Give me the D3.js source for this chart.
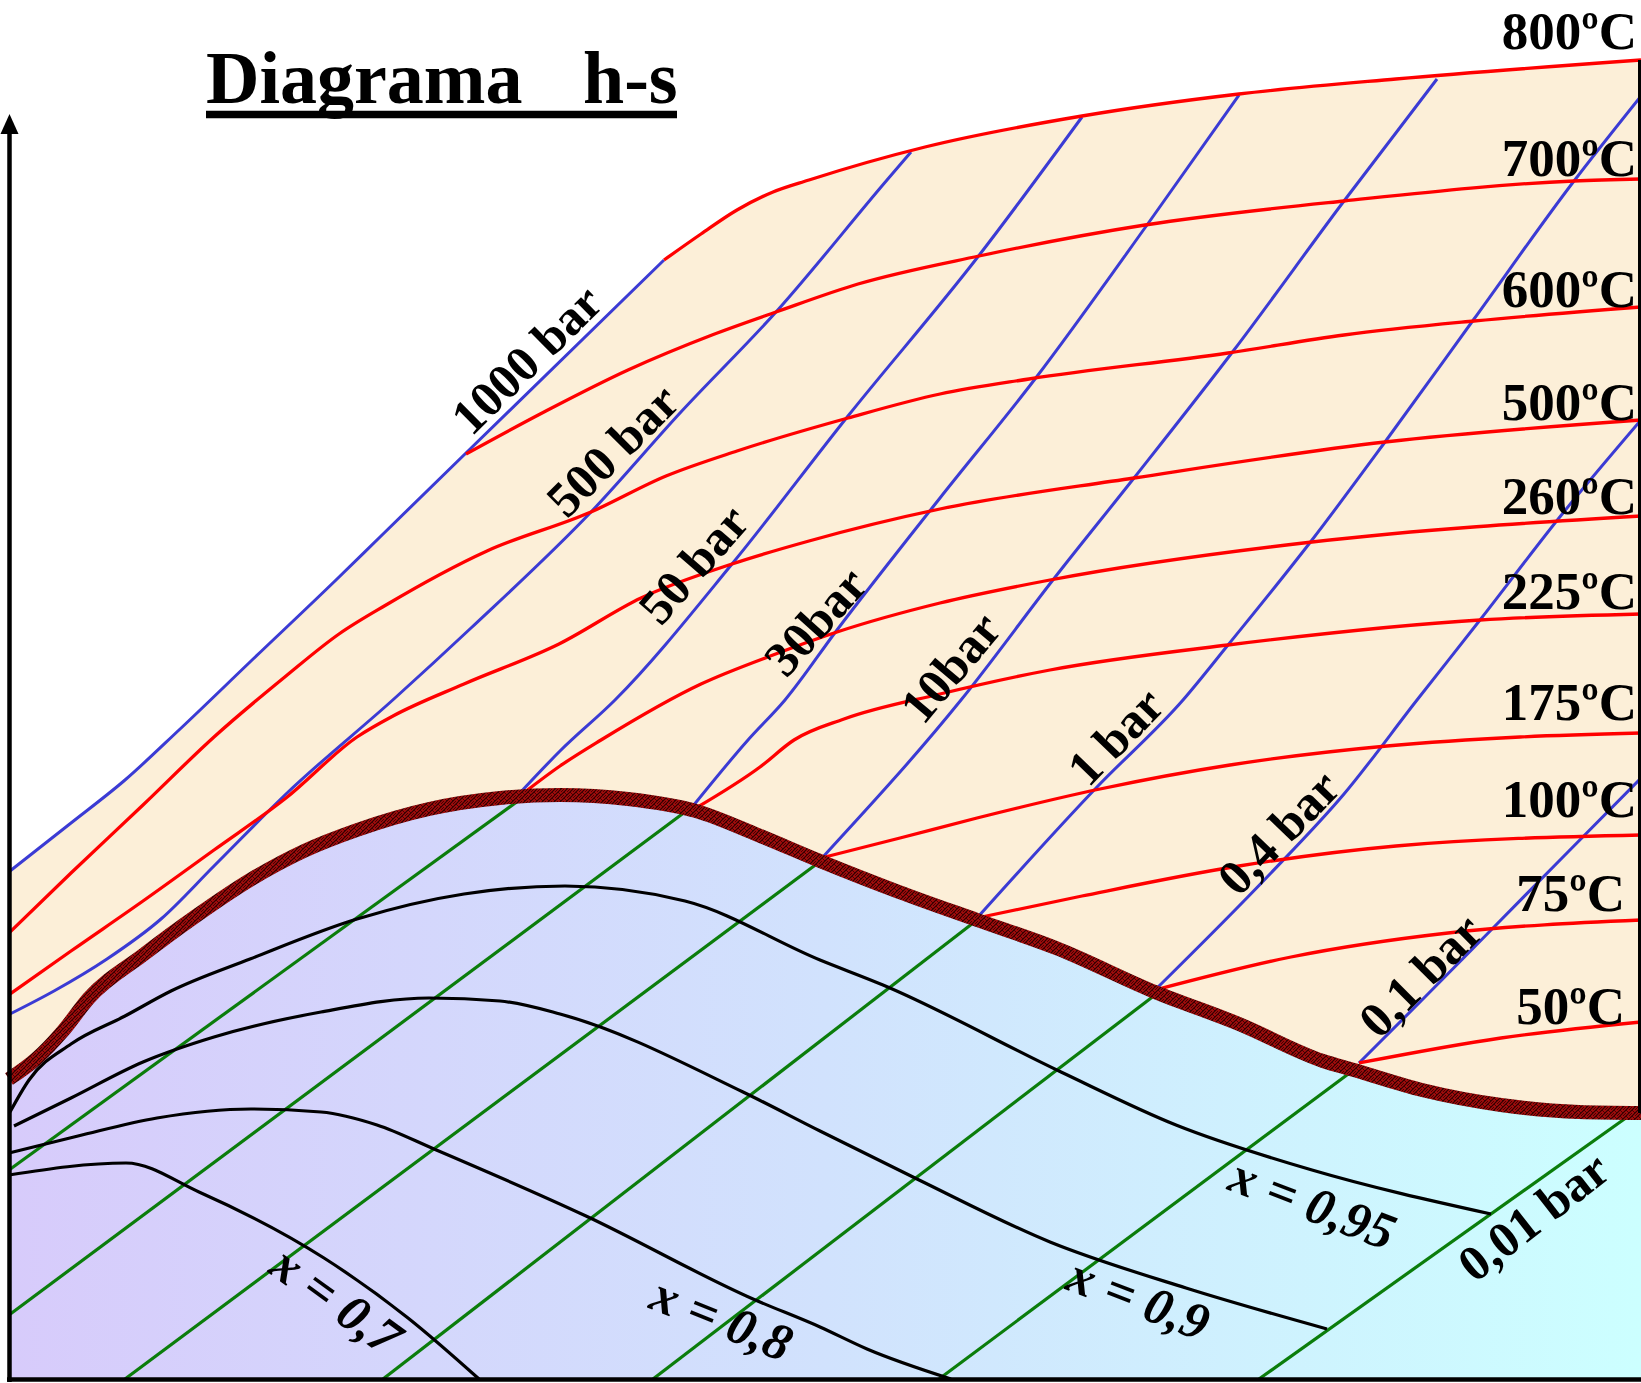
<!DOCTYPE html>
<html><head><meta charset="utf-8">
<script src="https://cdn.jsdelivr.net/npm/d3@7"></script>
<style>html,body{margin:0;padding:0;background:#fff;} svg{display:block;}</style>
</head><body>
<svg id="chart" width="1641" height="1383"></svg>
<script>
// ---------- DATA (s in arbitrary entropy units, h in arbitrary enthalpy units) ----------
const saturationCurve = [[0.00,300],[0.27,320],[0.54,348],[0.80,381],[1.34,424],[1.87,463],[2.41,499],[2.95,528],[3.48,549],[4.20,570],[4.91,581],[5.51,584],[6.19,580],[6.87,568],[7.49,544],[8.11,518],[8.90,487],[9.68,459],[10.47,431],[11.46,387],[12.30,355],[13.14,318],[13.45,309],[14.13,289],[14.92,274],[15.70,267],[16.32,266]];

// superheated isobars (blue)
const isobar1000 = [[0.01,508],[0.62,556],[1.16,599],[1.70,649],[2.41,717],[3.27,799],[3.71,842],[4.57,926],[6.55,1119]];
const isobar500  = [[0.01,365],[0.45,388],[0.98,420],[1.52,460],[2.05,513],[2.77,585],[3.86,681],[4.62,751],[5.82,867],[6.71,966],[7.67,1067],[8.78,1199],[9.02,1227]];
const isobar50   = [[5.09,584],[5.51,628],[6.06,679],[7.23,815],[8.39,963],[9.68,1121],[10.73,1262]];
const isobar30   = [[6.84,573],[7.39,639],[7.76,679],[8.28,749],[9.31,881],[10.26,1000],[11.38,1154],[12.30,1284]];
const isobar10   = [[8.13,521],[9.52,679],[10.47,803],[11.25,901],[12.25,1029],[13.35,1178],[14.28,1300]];
const isobar1    = [[9.68,461],[10.88,592],[11.74,679],[12.19,734],[13.03,839],[13.76,937],[14.65,1060],[15.65,1198],[16.32,1283]];
const isobar04   = [[11.46,389],[12.61,505],[13.35,585],[14.08,679],[14.71,759],[15.54,866],[16.32,959]];
const isobar01   = [[13.50,316],[14.13,379],[14.86,453],[15.54,522],[16.32,601]];

// wet-region isobars (green, straight)
const wet50  = [[0.00,209],[5.09,578]];
const wet30  = [[0.00,64],[6.84,573]];
const wet10  = [[1.16,0],[8.13,519]];
const wet1   = [[3.74,0],[9.68,459]];
const wet04  = [[6.44,0],[11.46,384]];
const wet01  = [[9.30,0],[13.50,313]];
const wet001 = [[12.50,0],[16.21,264]];

// isotherms (red)
const t800 = [[6.55,1119],[6.92,1145],[7.28,1169],[7.64,1187],[8.00,1199],[9.16,1232],[10.73,1263],[12.30,1285],[13.87,1300],[16.32,1319]];
const t700 = [[4.57,925],[5.35,967],[6.19,1009],[7.03,1044],[7.67,1067],[8.49,1095],[9.70,1123],[11.36,1154],[13.35,1178],[15.65,1198],[16.32,1200]];
const t600 = [[0.01,447],[0.62,506],[1.34,574],[2.05,642],[2.77,703],[3.30,745],[3.77,774],[4.78,828],[5.82,867],[6.57,903],[7.28,928],[8.39,961],[9.31,985],[10.20,1000],[12.19,1026],[13.35,1044],[14.65,1058],[16.32,1072]];
const t500 = [[0.01,385],[0.62,428],[1.34,478],[2.05,529],[2.77,581],[3.48,642],[3.84,663],[4.55,695],[5.50,735],[6.32,781],[7.23,815],[8.00,838],[9.31,870],[11.25,901],[13.76,937],[16.32,959]];
const t260 = [[5.12,584],[5.51,613],[5.92,639],[6.92,695],[7.64,724],[8.28,747],[9.31,776],[10.41,799],[13.03,837],[16.32,863]];
const t225 = [[6.87,571],[7.51,612],[7.85,639],[8.35,660],[9.31,685],[10.41,709],[12.19,734],[14.71,759],[16.32,765]];
const t175 = [[8.16,522],[8.91,541],[9.68,561],[10.91,590],[12.21,614],[13.78,633],[15.11,642],[16.32,646]];
const t100 = [[9.68,461],[10.73,483],[12.30,513],[13.87,533],[16.32,544]];
const t75  = [[11.46,389],[12.82,422],[14.39,446],[16.32,459]];
const t50  = [[13.50,316],[14.92,341],[16.32,357]];

// quality lines (black)
const q95 = [[0.01,267],[0.20,299],[0.62,335],[1.16,363],[1.62,388],[2.41,420],[3.48,460],[4.55,485],[5.56,493],[6.76,478],[8.11,419],[8.74,394],[10.52,307],[11.67,254],[13.03,209],[14.82,165]];
const q90 = [[0.05,253],[0.62,281],[1.34,317],[2.05,342],[3.12,367],[4.20,381],[4.91,378],[5.51,365],[7.34,287],[8.11,248],[9.08,200],[10.41,137],[11.77,91],[13.18,50]];
const q80 = [[0.00,226],[0.69,243],[1.48,261],[2.42,270],[3.12,267],[3.68,254],[4.25,230],[5.77,163],[7.44,80],[8.11,52],[8.58,30],[9.42,0]];
const q70 = [[0.00,204],[1.17,216],[1.90,187],[3.15,121],[3.99,61],[4.70,0]];

// labels
const tempLabelText = ["800ºC","700ºC","600ºC","500ºC","260ºC","225ºC","175ºC","100ºC","75ºC","50ºC"];
const tempLabelS    = [16.28,16.28,16.28,16.28,16.28,16.28,16.28,16.28,16.16,16.16];
const tempLabelH    = [1330,1203,1072,959,865,770,659,562,468,355];

const barLabelText  = ["1000 bar","500 bar","50 bar","30bar","10bar","1 bar","0,4 bar","0,1 bar","0,01 bar"];
const barLabelS     = [5.17,6.03,6.84,8.06,9.41,11.06,12.69,14.11,15.24];
const barLabelH     = [1020,929,815,758,712,643,547,404,163];
const barLabelAngle = [-44.5,-45,-49,-48,-50,-46,-46,-45,-38];

const qualLabelText  = ["x = 0,7","x = 0,8","x = 0,9","x = 0,95"];
const qualLabelS     = [3.28,7.13,11.30,13.04];
const qualLabelH     = [79,61,81,176];
const qualLabelAngle = [36,22,21,21];

const titleParts = ["Diagrama","h-s"];

// ---------- DRAWING ----------
const svg = d3.select("#chart");
const sX = d3.scaleLinear().domain([0, 16.32]).range([9, 1641]);
const hY = d3.scaleLinear().domain([0, 1379]).range([1379, 0]);
const serif = "'Liberation Serif','Times New Roman',Times,serif";

const defs = svg.append("defs");
const grad = defs.append("linearGradient").attr("id","wetGrad")
  .attr("gradientUnits","userSpaceOnUse").attr("x1",sX(0)).attr("x2",sX(16.32)).attr("y1",0).attr("y2",0);
grad.append("stop").attr("offset","0%").attr("stop-color","#d7cbfb");
grad.append("stop").attr("offset","50%").attr("stop-color","#d1e2fd");
grad.append("stop").attr("offset","100%").attr("stop-color","#ccffff");

const pat = defs.append("pattern").attr("id","weave").attr("patternUnits","userSpaceOnUse")
  .attr("width",6).attr("height",6);
pat.append("rect").attr("width",6).attr("height",6).attr("fill","#9e0c0c");
pat.append("path").attr("d","M0,6 L6,0 M-1,1 L1,-1 M5,7 L7,5").attr("stroke","#2b0000").attr("stroke-width",1.1);
pat.append("path").attr("d","M0,0 L3,3 M3,6 L6,3").attr("stroke","#3d0000").attr("stroke-width",0.9);

const lineLin = d3.line().x(d=>sX(d[0])).y(d=>hY(d[1])).curve(d3.curveLinear);
const lineSm  = d3.line().x(d=>sX(d[0])).y(d=>hY(d[1])).curve(d3.curveMonotoneX);

// superheated region fill
const superPoly = isobar1000.concat(t800.slice(1), [[16.32, saturationCurve[saturationCurve.length-1][1]]], saturationCurve.slice().reverse());
svg.append("path").attr("d", lineLin(superPoly) + "Z").attr("fill","#fcefd8");

// wet region fill
const wetPoly = saturationCurve.concat([[16.32,0],[0,0]]);
svg.append("path").attr("d", lineLin(wetPoly) + "Z").attr("fill","url(#wetGrad)");

// green wet isobars
const gG = svg.append("g");
[wet50,wet30,wet10,wet1,wet04,wet01,wet001].forEach(a=>{
  gG.append("path").attr("d", lineLin(a)).attr("fill","none").attr("stroke","#0b7d0b").attr("stroke-width",3.2);
});

// black quality lines
const gQ = svg.append("g");
[q95,q90,q80,q70].forEach(a=>{
  gQ.append("path").attr("d", lineSm(a)).attr("fill","none").attr("stroke","#000").attr("stroke-width",3.2).attr("stroke-linejoin","round");
});

// blue isobars
const gB = svg.append("g");
[isobar1000,isobar500,isobar50,isobar30,isobar10,isobar1,isobar04,isobar01].forEach(a=>{
  gB.append("path").attr("d", lineSm(a)).attr("fill","none").attr("stroke","#3b3bd4").attr("stroke-width",3);
});

// red isotherms
const gR = svg.append("g");
[t800,t700,t600,t500,t260,t225,t175,t100,t75,t50].forEach(a=>{
  gR.append("path").attr("d", lineSm(a)).attr("fill","none").attr("stroke","#ff0000").attr("stroke-width",3.3);
});

// saturation band
svg.append("path").attr("d", lineSm(saturationCurve)).attr("fill","none")
  .attr("stroke","url(#weave)").attr("stroke-width",14).attr("stroke-linecap","butt");

// right border
svg.append("line").attr("x1",1639.5).attr("x2",1639.5)
  .attr("y1",hY(t800[t800.length-1][1])).attr("y2",hY(saturationCurve[saturationCurve.length-1][1]))
  .attr("stroke","#000").attr("stroke-width",3);

// temperature labels
tempLabelText.forEach((t,i)=>{
  svg.append("text").attr("x",sX(tempLabelS[i])).attr("y",hY(tempLabelH[i]))
    .attr("text-anchor","end").attr("font-family",serif).attr("font-weight","bold")
    .attr("font-size",53).attr("fill","#000").text(t);
});

// bar labels
barLabelText.forEach((t,i)=>{
  svg.append("text")
    .attr("transform",`translate(${sX(barLabelS[i])},${hY(barLabelH[i])}) rotate(${barLabelAngle[i]})`)
    .attr("text-anchor","middle").attr("dy","0.35em")
    .attr("font-family",serif).attr("font-weight","bold").attr("font-size",50).attr("fill","#000").text(t);
});

// quality labels
qualLabelText.forEach((t,i)=>{
  svg.append("text")
    .attr("transform",`translate(${sX(qualLabelS[i])},${hY(qualLabelH[i])}) rotate(${qualLabelAngle[i]})`)
    .attr("text-anchor","middle").attr("dy","0.35em")
    .attr("font-family",serif).attr("font-weight","bold").attr("font-style","italic")
    .attr("font-size",52).attr("fill","#000").text(t);
});

// axes
svg.append("line").attr("x1",9.5).attr("x2",9.5).attr("y1",1382).attr("y2",128)
  .attr("stroke","#000").attr("stroke-width",4.5);
svg.append("path").attr("d","M9.5,114 L18.5,134 L0.5,134 Z").attr("fill","#000");
svg.append("line").attr("x1",7).attr("x2",1641).attr("y1",1379.5).attr("y2",1379.5)
  .attr("stroke","#000").attr("stroke-width",4.5);

// title
svg.append("text").attr("x",206).attr("y",103).attr("font-family",serif).attr("font-weight","bold")
  .attr("font-size",74).attr("fill","#000").text(titleParts[0]);
svg.append("text").attr("x",583).attr("y",103).attr("font-family",serif).attr("font-weight","bold")
  .attr("font-size",74).attr("fill","#000").text(titleParts[1]);
svg.append("line").attr("x1",206).attr("x2",677).attr("y1",114.5).attr("y2",114.5)
  .attr("stroke","#000").attr("stroke-width",7.5);
</script>
</body></html>
